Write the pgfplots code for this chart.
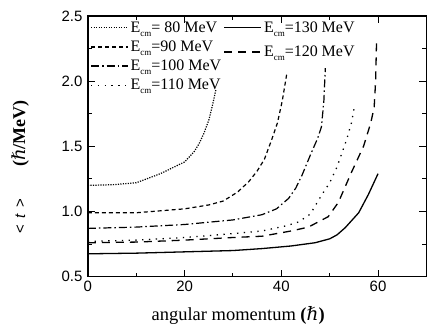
\documentclass[border=0pt]{standalone}
\usepackage{pgfplots}
\pgfplotsset{compat=1.18}
\usepackage{fontspec}
\setmainfont{Liberation Serif}
\newfontfamily\arial{Liberation Sans}
\newfontfamily\dvs{DejaVu Serif}
\usetikzlibrary{calc}
\newcommand{\Ecm}{E\raisebox{-4pt}{\fontsize{9}{9}\selectfont cm}}
\newcommand{\hb}{{\dvs\itshape ℏ}}
\begin{document}
\begin{tikzpicture}
\pgfplotsset{
  base/.style={
    scale only axis, width=339pt, height=261pt,
    xmin=0, xmax=70, ymin=0.5, ymax=2.5,
    legend image code/.code={\draw[##1] (0pt,0pt) -- (37pt,0pt);},
    legend style={draw=none, fill=none, font=\fontsize{16}{17}\selectfont, inner sep=1pt,
      cells={anchor=west}, /tikz/every even column/.append style={column sep=1pt}},
  },
}
\begin{axis}[base,
  axis line style={line width=1.3pt},
  xtick={0,20,40,60}, ytick={0.5,1.0,1.5,2.0,2.5},
  minor tick num=1,
  tick align=inside,
  major tick length=7pt, minor tick length=4pt,
  every tick/.style={line width=1pt, black},
  ticklabel style={font=\arial\fontsize{15}{16}\selectfont},
  /pgf/number format/assume math mode=true,
  yticklabel style={/pgf/number format/fixed, /pgf/number format/fixed zerofill, /pgf/number format/precision=1, xshift=-2pt},
  xticklabel style={yshift=-1pt},
  xlabel={angular momentum \textbf{(}\hb\textbf{)}},
  xlabel style={font=\fontsize{18.5}{20}\selectfont, at={(axis description cs:0.444,-0.15)}, anchor=center},
  ylabel={{\arial\fontsize{15}{16}\selectfont <\, {\itshape t}\, >}\hspace{32pt}\textbf{(}\hb\textbf{/MeV)}},
  ylabel style={font=\fontsize{18}{20}\selectfont, at={(axis description cs:-0.2,0.42)}, anchor=center},
  legend style={at={(axis description cs:0.004,0.99)}, anchor=north west, row sep=3pt},
]
\addplot[black, line width=1.2pt, dash pattern=on 1.2pt off 1.3pt] coordinates {
(0,1.20) (5,1.205) (10,1.22) (15,1.29) (20,1.38) (22,1.46) (23,1.52) (24,1.60) (25,1.70) (25.8,1.82) (26.5,1.94)};
\addlegendentry{\Ecm= 80 MeV}
\addplot[black, line width=1.2pt, dash pattern=on 4pt off 3pt] coordinates {
(0,0.99) (10,0.99) (20,1.02) (25,1.05) (28,1.08) (31,1.15) (33.3,1.23) (35,1.31) (36.5,1.40) (38,1.55) (39.2,1.68) (40.2,1.85) (41.1,2.05)};
\addlegendentry{\Ecm=90 MeV}
\addplot[black, line width=1.2pt, dash pattern=on 8pt off 3pt on 1.5pt off 3pt] coordinates {
(0,0.87) (10,0.88) (20,0.90) (30,0.935) (36,0.975) (39,1.02) (41.5,1.10) (43,1.18) (44.3,1.28) (46.2,1.45) (47.5,1.56) (48.3,1.65) (48.8,1.85) (49.1,2.10)};
\addlegendentry{\Ecm=100 MeV}
\addplot[black, line width=1.3pt, dash pattern=on 1.3pt off 5.5pt] coordinates {
(0,0.77) (10,0.78) (20,0.80) (30,0.83) (36,0.85) (41,0.89) (43.6,0.92) (46,0.98) (48.4,1.13) (50,1.22) (51.5,1.34) (53.5,1.55) (54.5,1.68) (55.2,1.82)};
\addlegendentry{\Ecm=110 MeV}
\end{axis}
\begin{axis}[base, hide axis,
  legend style={at={(axis description cs:0.398,0.99)}, anchor=north west, row sep=8pt},
]
\addplot[black, line width=1.3pt] coordinates {
(0,0.675) (10,0.68) (20,0.69) (30,0.70) (36,0.715) (42,0.735) (47,0.76) (50,0.79) (51.5,0.82) (53.2,0.875) (56,0.99) (58,1.13) (60,1.29)};
\addlegendentry{\Ecm=130 MeV}
\addplot[black, line width=1.3pt, dash pattern=on 8pt off 6pt] coordinates {
(0,0.76) (10,0.765) (20,0.78) (30,0.80) (36,0.81) (42,0.85) (45.6,0.88) (49.7,0.96) (51.8,1.07) (54.5,1.30) (57,1.50) (58.5,1.68) (59.2,1.80) (59.5,2.00) (59.7,2.32)};
\addlegendentry{\Ecm=120 MeV}
\end{axis}
\pgfresetboundingbox
\path ($(current axis.south west)+(-88pt,-55pt)$) rectangle ($(current axis.north east)+(0.6pt,16pt)$);
\end{tikzpicture}
\end{document}
